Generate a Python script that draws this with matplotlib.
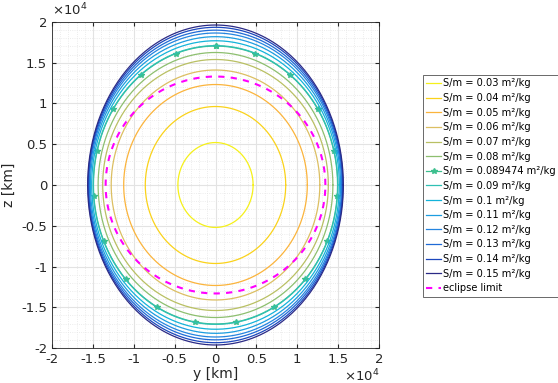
import numpy as np
import matplotlib
matplotlib.use("Agg")
import matplotlib.pyplot as plt
from matplotlib.ticker import FixedLocator, FuncFormatter, MultipleLocator

# --- data (km) ---
sm_values = [0.03, 0.04, 0.05, 0.06, 0.07, 0.08, 0.089474, 0.09, 0.1,
             0.11, 0.12, 0.13, 0.14, 0.15]
sm_labels = ["0.03", "0.04", "0.05", "0.06", "0.07", "0.08", "0.089474",
             "0.09", "0.1", "0.11", "0.12", "0.13", "0.14", "0.15"]
semi_y = [4600, 8590, 11230, 12760, 13800, 14360, 14930, 14960, 15150,
          15300, 15420, 15510, 15580, 15640]
semi_z = [5210, 9630, 12330, 14110, 15400, 16260, 17050, 17100, 17700,
          18200, 18650, 19000, 19350, 19630]
colors = ["#f5f01a", "#fad21a", "#fbb43c", "#dcbf62", "#b9c063", "#8dbf6f",
          "#3cbf8e", "#2fc0b4", "#13b3da", "#1c9de0", "#2585e0", "#1f6ad6",
          "#1c47bd", "#2b2a86"]
eclipse_y = 13440
eclipse_z = 13310
special = 0.089474
n_markers = 19

fig = plt.figure(figsize=(5.58, 3.83), dpi=100)
ax = fig.add_axes([52/558, 1-348/383, (379-52)/558, (348-22)/383])

for sm, lab, a, b, c in zip(sm_values, sm_labels, semi_y, semi_z, colors):
    if sm == special:
        k = 20
        t = np.deg2rad(90 + np.linspace(0, 360, n_markers*k + 1))
        ax.plot(a*np.cos(t), b*np.sin(t), color=c, lw=0.9, marker='*',
                ms=4, markevery=k, label=f"S/m = {lab} m\u00b2/kg")
    else:
        t = np.linspace(0, 2*np.pi, 400)
        ax.plot(a*np.cos(t), b*np.sin(t), color=c, lw=0.9,
                label=f"S/m = {lab} m\u00b2/kg")

t = np.linspace(0, 2*np.pi, 400)
ax.plot(eclipse_y*np.cos(t), eclipse_z*np.sin(t), color="#ff00ff", lw=1.5,
        ls=(0, (3, 3)), label="eclipse limit")

ax.set_xlim(-20000, 20000)
ax.set_ylim(-20000, 20000)
ticks = np.arange(-20000, 20001, 5000)
fmt = FuncFormatter(lambda v, p: f"{v/1e4:g}".replace("\u2212", "-"))
for axis in (ax.xaxis, ax.yaxis):
    axis.set_major_locator(FixedLocator(ticks))
    axis.set_minor_locator(MultipleLocator(1000))
    axis.set_major_formatter(fmt)

ax.grid(True, which='major', color='#e3e3e3', lw=0.8)
ax.grid(True, which='minor', color='#e6e6e6', lw=0.6, ls=':')
ax.set_axisbelow(True)
ax.tick_params(which='both', direction='in', top=True, right=True,
               colors='#262626', labelsize=9.5)
ax.tick_params(which='major', length=3)
ax.tick_params(which='minor', length=0)
for s in ax.spines.values():
    s.set_color('#262626')
    s.set_linewidth(0.6)

ax.set_xlabel("y [km]", fontsize=10, color='#262626', labelpad=1)
ax.set_ylabel("z [km]", fontsize=10, color='#262626', labelpad=4)
ax.text(0.0, 1.01, r"$\times10^4$", transform=ax.transAxes, fontsize=9.5,
        color='#262626', ha='left', va='bottom')
ax.text(1.0, -0.086, r"$\times10^4$", transform=ax.transAxes, fontsize=9.5,
        color='#262626', ha='right', va='center')

leg = fig.legend(loc='upper left', bbox_to_anchor=(423/558, 1-75/383),
                 fontsize=7.1, frameon=True, fancybox=False, handlelength=1.5,
                 handletextpad=0.2, labelspacing=0.47, borderpad=0.35,
                 borderaxespad=0)
leg.get_frame().set_edgecolor('#262626')
leg.get_frame().set_linewidth(0.6)

fig.savefig("out.png", dpi=100)
